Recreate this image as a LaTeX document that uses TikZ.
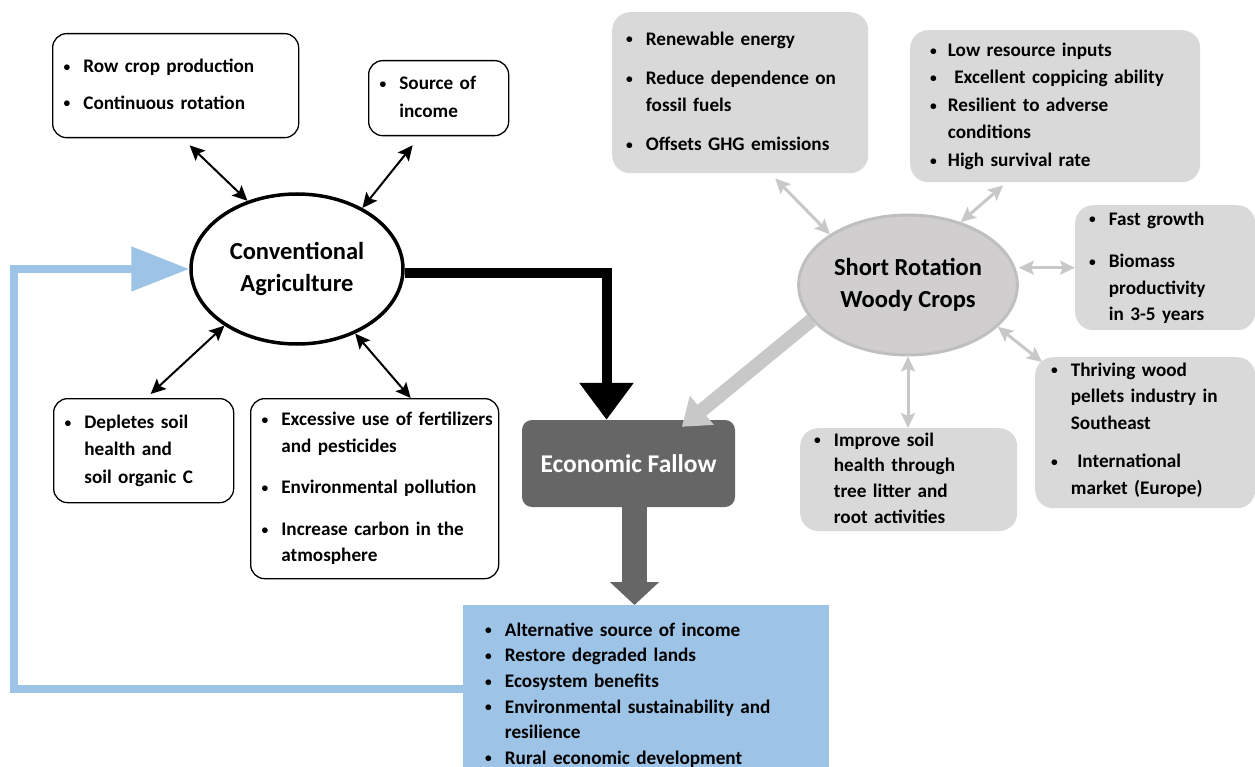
\documentclass[tikz,border=0pt]{standalone}
\usepackage{fontspec}
\setmainfont{Carlito}
\usetikzlibrary{positioning, arrows.meta, shapes.geometric}
\definecolor{fallowgray}{HTML}{666666}
\definecolor{boxgray}{HTML}{D9D9D9}
\definecolor{srwcgray}{HTML}{D0CECE}
\definecolor{srwcedge}{HTML}{BFBFBF}
\definecolor{linkgray}{HTML}{C8C8C8}
\definecolor{loopblue}{HTML}{9DC3E6}
\newcommand{\itemdot}{\raisebox{1.4pt}{\scalebox{0.7}{\textbullet}}}
\tikzset{%
  every bullets/.style={
    draw,
    line width=1.3pt,
    rounded corners=14pt,
    anchor=north west,
    align=left,
    inner xsep=11pt,
    inner ysep=0pt
  },
  grey bullets/.style={
    fill=boxgray,
    rounded corners=18pt,
    anchor=north west,
    align=left,
    inner xsep=14pt,
    inner ysep=0pt
  },
  every hub/.style={
    ellipse,
    align=center,
    font=\bfseries\fontsize{24.5}{32}\selectfont
  },
  link/.style={<->, >={Stealth[length=15pt, width=14pt, inset=3pt]}, line width=2pt},
  grey link/.style={<->, >={Stealth[length=15pt, width=14pt, inset=3pt]}, line width=3pt, linkgray}
}

\begin{document}
\begin{tikzpicture}[x=1pt, y=-1pt, font=\bfseries\fontsize{19.2}{26.5}\selectfont]
		\useasboundingbox (0,0) rectangle (1255,767);
		\clip (0,0) rectangle (1255,767);
		%% conventional agriculture
		\node[every hub, draw, line width=3.5pt, minimum width=212pt, minimum height=150pt] (ca) at (297,269) {Conventional\\Agriculture};
		\node[every bullets, minimum height=104pt, text width=224pt] (rowcrop) at (52,33) {\begin{tabular}{@{}l@{\hspace{13pt}}l@{}}
			\itemdot & Row crop production\\[10pt]
			\itemdot & Continuous rotation
		\end{tabular}};
		\node[every bullets, minimum height=75pt, text width=118pt] (income) at (368,60) {\begin{tabular}{@{}l@{\hspace{13pt}}l@{}}
			\itemdot & Source of\\[1pt]
			& income
		\end{tabular}};
		\node[every bullets, minimum height=104pt, text width=158pt] (deplete) at (53,398) {\begin{tabular}{@{}l@{\hspace{13pt}}l@{}}
			\itemdot & Depletes soil\\[1pt]
			& health and\\[1pt]
			& soil organic C
		\end{tabular}};
		\node[every bullets, minimum height=180pt, text width=226pt] (excess) at (250,398) {\begin{tabular}{@{}l@{\hspace{13pt}}l@{}}
			\itemdot & Excessive use of fertilizers\\
			& and pesticides\\[15pt]
			\itemdot & Environmental pollution\\[15pt]
			\itemdot & Increase carbon in the\\
			& atmosphere
		\end{tabular}};
		%% economic fallow
		\node[fill=fallowgray, rounded corners=10pt, text=white, minimum width=213pt, minimum height=87pt, font=\bfseries\fontsize{25.5}{30}\selectfont] (fallow) at (628.5,463.5) {Economic Fallow};
		\node[fill=loopblue, anchor=north west, align=left, inner xsep=22pt, text width=322pt, minimum height=180pt, font=\bfseries\fontsize{19.2}{25.6}\selectfont] (blue) at (463,605) {\begin{tabular}{@{}l@{\hspace{13pt}}l@{}}
			\itemdot & Alternative source of income\\
			\itemdot & Restore degraded lands\\
			\itemdot & Ecosystem benefits\\
			\itemdot & Environmental sustainability and\\
			& resilience\\
			\itemdot & Rural economic development
		\end{tabular}};
		%% short rotation woody crops
		\node[every hub, fill=srwcgray, draw=srwcedge, line width=3pt, minimum width=217pt, minimum height=140pt] (srwc) at (908,285) {Short Rotation\\Woody Crops};
		\node[grey bullets, minimum height=161pt, text width=228pt] (renew) at (612,12) {\begin{tabular}{@{}l@{\hspace{13pt}}l@{}}
			\itemdot & Renewable energy\\[13pt]
			\itemdot & Reduce dependence on\\
			& fossil fuels\\[13pt]
			\itemdot & Offsets GHG emissions
		\end{tabular}};
		\node[grey bullets, inner xsep=20pt, minimum height=152pt, text width=250pt] (lowres) at (910,30) {\begin{tabular}{@{}l@{\hspace{11pt}}l@{}}
			\itemdot & Low resource inputs\\[1pt]
			\itemdot & \ Excellent coppicing ability\\[1pt]
			\itemdot & Resilient to adverse\\[1pt]
			& conditions\\[1pt]
			\itemdot & High survival rate
		\end{tabular}};
		\node[grey bullets, minimum height=125pt, text width=152pt] (fast) at (1075,205) {\begin{tabular}{@{}l@{\hspace{13pt}}l@{}}
			\itemdot & Fast growth\\[16pt]
			\itemdot & Biomass\\
			& productivity\\
			& in 3-5 years
		\end{tabular}};
		\node[grey bullets, inner xsep=16pt, minimum height=151pt, text width=188pt] (thriving) at (1035,357) {\begin{tabular}{@{}l@{\hspace{13pt}}l@{}}
			\itemdot & Thriving wood\\
			& pellets industry in\\
			& Southeast\\[12pt]
			\itemdot & \ International\\
			& market (Europe)\\[6pt]
		\end{tabular}};
		\node[grey bullets, minimum height=102pt, text width=189pt, font=\bfseries\fontsize{19.2}{25.7}\selectfont] (improve) at (800,428) {\begin{tabular}{@{}l@{\hspace{13pt}}l@{}}
			\itemdot & Improve soil\\
			& health through\\
			& tree litter and\\
			& root activities
		\end{tabular}};
		%% conventional links
		\draw[link] ([xshift=14pt,yshift=-7pt]rowcrop.south) -- (ca.126);
		\draw[link] ([xshift=-26pt,yshift=-9pt]income.south) -- (ca.43);
		\draw[link] (ca.218) -- ([xshift=7pt,yshift=4pt]deplete.north);
		\draw[link] (ca.312) -- ([xshift=36pt]excess.north);
		%% main flow
		\draw[line width=10pt, -{Triangle[length=37pt, width=52pt]}] ([yshift=-4pt]ca.east) -| ([xshift=-22pt]fallow.north);
		\draw[fallowgray, line width=25pt, -{Triangle[length=23pt, width=48pt]}] ([xshift=6pt]fallow.south) -- ([xshift=6pt]fallow.south |- blue.north);
		% back to conventional
		\coordinate (loop) at (14,689);
		\draw[loopblue, line width=8pt, -{Triangle[length=58pt, width=43pt]}] (blue.west |- loop) -- (loop) |- (ca.west);
		%% srwc links
		\draw[grey link] ([xshift=35pt,yshift=-5pt]renew.south) -- (srwc.147);
		\draw[grey link] ([xshift=-52pt,yshift=-3pt]lowres.south) -- (srwc.50);
		\draw[grey link] (srwc.east |- fast.west) -- (fast.west);
		\draw[grey link] (srwc.335) -- ([xshift=7pt,yshift=-5pt]thriving.north west);
		\draw[grey link] (srwc.south) -- (srwc.south |- improve.north);
		\draw[linkgray, line width=14pt, -{Triangle[length=26pt, width=36pt]}] (srwc.200) -- ([xshift=160pt,yshift=-7pt]fallow.north west);
	\end{tikzpicture}
\end{document}
